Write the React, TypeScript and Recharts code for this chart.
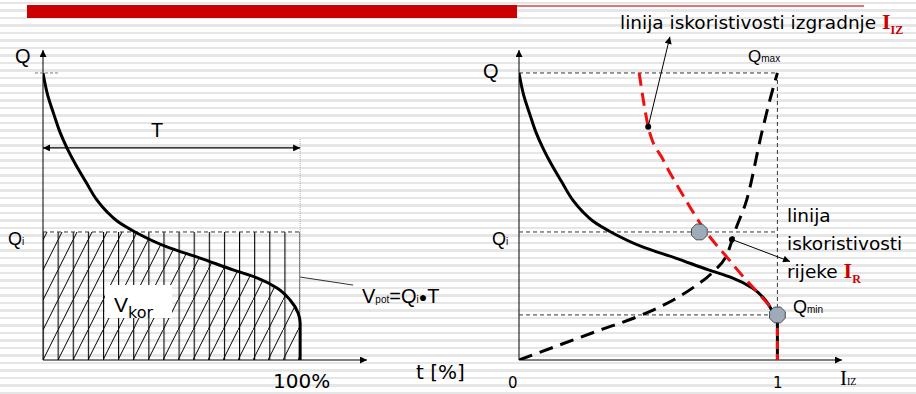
import React from "react";
import {
  ComposedChart, Line, Area, XAxis, YAxis, ReferenceLine, ReferenceDot, ReferenceArea,
} from "recharts";

// krivulja trajanja protoka: t [%] -> Q
const durT = [0, 1.9, 4.3, 6.6, 9.3, 12.8, 16.7, 21.0, 24.9, 28.8, 35.8, 48.2, 61.1, 73.9, 83.2, 91.0, 96.1, 99.2, 100, 100];
const durQ = [100, 92.0, 85.4, 79.4, 73.9, 67.9, 62.0, 55.7, 51.6, 48.4, 44.6, 39.4, 35.5, 31.4, 28.6, 25.1, 20.9, 16.4, 12.9, 0];

const QMAX = 100;
const QI = 44.6;
const QMIN = 15.7;
const T_LEVEL = 73.9;

// linija iskoristivosti izgradnje I_IZ
const izI = [0.465, 0.5, 0.558, 0.63, 0.724, 0.804, 0.868, 0.933, 1.0];
const izQ = [100, 81.3, 69.7, 58.1, 44.6, 35.9, 29.0, 22.6, 15.7];

// linija iskoristivosti rijeke I_R
const rI = [0, 0.159, 0.313, 0.475, 0.597, 0.675, 0.752, 0.804, 0.842, 0.881, 0.939, 0.971, 1.0];
const rQ = [0, 5.3, 10.4, 15.7, 20.9, 25.3, 30.8, 36.6, 46.4, 55.7, 79.0, 90.6, 100];

const duration = durT.map((t, k) => ({ t, q: durQ[k] }));
const durationRight = [...duration.filter((p) => p.q > 16), { t: 99.7, q: QMIN }];
const izLine = izI.map((i, k) => ({ i, q: izQ[k] }));
const rLine = rI.map((i, k) => ({ i, q: rQ[k] }));

const markers = [{ i: 0.698, q: QI }, { i: 1, q: QMIN }];
const leaderIZ = [{ x: 0.5, y: 81.3 }, { x: 0.584, y: 112.6 }];
const leaderR = [{ x: 0.824, y: 42.0 }, { x: 1.049, y: 34.3 }];
const leaderPot = [{ x: 100, y: 28.9 }, { x: 120.6, y: 26.1 }];

// opsezi osi (Q do vrha strelice, t i I do kraja strelice)
const Q_TOP = 108;
const T_END = 126;
const I_END = 1.25;

const ARIAL = "'Liberation Sans', Arial, sans-serif";
const VERD = "'DejaVu Sans', Verdana, sans-serif";
const SERIF = "'Liberation Serif', 'Times New Roman', serif";
const RED = "#ee1111";
const DARK_RED = "#cc0000";

const W = 916;
const H = 394;

function ArrowEnd(p: any) {
  return <line x1={p.x1} y1={p.y1} x2={p.x2} y2={p.y2} stroke="#000" strokeWidth={1} markerEnd="url(#arrowHead)" />;
}

function ArrowBoth(p: any) {
  return (
    <line x1={p.x1} y1={p.y1} x2={p.x2} y2={p.y2} stroke="#000" strokeWidth={1.2}
      markerStart="url(#arrowHead)" markerEnd="url(#arrowHead)" />
  );
}

function Octagon({ cx, cy }: any) {
  const r = 8.5;
  const pts = Array.from({ length: 8 }, (_, k) => {
    const a = Math.PI / 8 + (k * Math.PI) / 4;
    return `${cx + r * Math.cos(a)},${cy + r * Math.sin(a)}`;
  }).join(" ");
  return <polygon points={pts} fill="#9eacb9" stroke="#4a4a4a" strokeWidth={1} />;
}

function Defs() {
  return (
    <svg width={0} height={0} style={{ position: "absolute" }}>
      <defs>
        <marker id="arrowHead" viewBox="0 0 10 10" refX={10} refY={5} markerUnits="userSpaceOnUse"
          markerWidth={9} markerHeight={7} orient="auto-start-reverse">
          <path d="M0,0 L10,5 L0,10 z" fill="#000" />
        </marker>
        <pattern id="dhatch" patternUnits="userSpaceOnUse" x={43} y={0} width={15} height={30}>
          <line x1={-1} y1={32} x2={16} y2={-2} stroke="#000" strokeWidth={1} />
        </pattern>
        <pattern id="vhatch" patternUnits="userSpaceOnUse" x={42.5} y={0} width={257 / 17} height={10}>
          <rect x={0} y={0} width={1.1} height={10} fill="#000" />
        </pattern>
      </defs>
    </svg>
  );
}

function LeftChart() {
  return (
    <ComposedChart width={460} height={H} data={duration} margin={{ top: 50, right: 93, bottom: 34, left: 43 }}>
      <XAxis type="number" dataKey="t" domain={[0, T_END]} allowDataOverflow hide />
      <YAxis type="number" domain={[0, Q_TOP]} allowDataOverflow hide />
      <ReferenceArea x1={0} x2={100} y1={0} y2={QI} fill="url(#vhatch)" fillOpacity={1} stroke="none" ifOverflow="visible" />
      <Area dataKey={(d: any) => Math.min(d.q, QI)} type="linear" fill="url(#dhatch)" fillOpacity={1} stroke="none"
        isAnimationActive={false} />
      <ReferenceLine segment={[{ x: 0, y: 0 }, { x: T_END, y: 0 }]} shape={ArrowEnd} ifOverflow="visible" />
      <ReferenceLine segment={[{ x: 0, y: 0 }, { x: 0, y: Q_TOP }]} shape={ArrowEnd} ifOverflow="visible" />
      <ReferenceLine segment={[{ x: 0, y: QI }, { x: 100, y: QI }]} stroke="#333" strokeDasharray="4 3" ifOverflow="visible" />
      <ReferenceLine segment={[{ x: -3.1, y: QMAX }, { x: 5.8, y: QMAX }]} stroke="#777" strokeDasharray="3 2" ifOverflow="visible" />
      <ReferenceLine segment={[{ x: 100, y: 77 }, { x: 100, y: 0 }]} stroke="#aaa" strokeDasharray="1 1" ifOverflow="visible" />
      <ReferenceLine segment={[{ x: 0, y: T_LEVEL }, { x: 100, y: T_LEVEL }]} shape={ArrowBoth} ifOverflow="visible" />
      <ReferenceLine segment={leaderPot} stroke="#333" strokeWidth={1} ifOverflow="visible" />
      <Line dataKey="q" type="monotoneY" stroke="#000" strokeWidth={3} dot={false} activeDot={false}
        isAnimationActive={false} />
    </ComposedChart>
  );
}

function RightChart() {
  return (
    <ComposedChart width={456} height={H} margin={{ top: 50, right: 74, bottom: 34, left: 59 }}>
      <XAxis xAxisId="i" type="number" dataKey="i" domain={[0, I_END]} allowDataOverflow hide />
      <XAxis xAxisId="t" type="number" dataKey="t" domain={[0, T_END]} allowDataOverflow hide />
      <YAxis type="number" domain={[0, Q_TOP]} allowDataOverflow hide />

      <ReferenceLine xAxisId="i" segment={[{ x: 0, y: 0 }, { x: I_END, y: 0 }]} shape={ArrowEnd} ifOverflow="visible" />
      <ReferenceLine xAxisId="i" segment={[{ x: 0, y: 0 }, { x: 0, y: Q_TOP }]} shape={ArrowEnd} ifOverflow="visible" />

      <ReferenceLine xAxisId="i" segment={[{ x: 0, y: QMAX }, { x: 1, y: QMAX }]} stroke="#333" strokeDasharray="4 3" ifOverflow="visible" />
      <ReferenceLine xAxisId="i" segment={[{ x: 1, y: QMAX }, { x: 1, y: QMIN }]} stroke="#333" strokeDasharray="4 3" ifOverflow="visible" />
      <ReferenceLine xAxisId="i" segment={[{ x: 0, y: QI }, { x: 1, y: QI }]} stroke="#333" strokeDasharray="4 3" ifOverflow="visible" />
      <ReferenceLine xAxisId="i" segment={[{ x: 0, y: QMIN }, { x: 1, y: QMIN }]} stroke="#333" strokeDasharray="4 3" ifOverflow="visible" />

      <Line xAxisId="t" data={durationRight} dataKey="q" type="monotoneY" stroke="#000" strokeWidth={3} dot={false}
        activeDot={false} isAnimationActive={false} />
      <Line xAxisId="i" data={rLine} dataKey="q" type="monotoneX" stroke="#000" strokeWidth={3} strokeDasharray="14 8"
        dot={false} activeDot={false} isAnimationActive={false} />
      <Line xAxisId="i" data={izLine} dataKey="q" type="monotoneX" stroke={RED} strokeWidth={3} strokeDasharray="13 7"
        dot={false} activeDot={false} isAnimationActive={false} />

      <ReferenceLine xAxisId="i" segment={[{ x: 1, y: QMIN }, { x: 1, y: 0 }]} stroke="#000" strokeWidth={3} ifOverflow="visible" />
      <ReferenceLine xAxisId="i" segment={[{ x: 1, y: QMIN }, { x: 1, y: 0 }]} stroke={RED} strokeWidth={3} strokeDasharray="8 5" ifOverflow="visible" />

      <ReferenceLine xAxisId="i" segment={leaderIZ} shape={ArrowEnd} ifOverflow="visible" />
      <ReferenceLine xAxisId="i" segment={leaderR} shape={ArrowEnd} ifOverflow="visible" />
      <ReferenceDot xAxisId="i" x={leaderIZ[0].x} y={leaderIZ[0].y} r={3} fill="#000" stroke="none" ifOverflow="visible" />
      <ReferenceDot xAxisId="i" x={leaderR[0].x} y={leaderR[0].y} r={3} fill="#000" stroke="none" ifOverflow="visible" />

      {markers.map((m, k) => (
        <ReferenceDot key={k} xAxisId="i" x={m.i} y={m.q} r={8.5} shape={Octagon} ifOverflow="visible" />
      ))}
    </ComposedChart>
  );
}

function Labels() {
  return (
    <svg width={W} height={H} style={{ position: "absolute", left: 0, top: 0, pointerEvents: "none" }}>
      {/* lijevi dijagram */}
      <text x={15} y={63} fontFamily={ARIAL} fontSize={20}>Q</text>
      <text x={157} y={137} fontFamily={ARIAL} fontSize={20} textAnchor="middle">T</text>
      <text x={8} y={245} fontFamily={ARIAL} fontSize={18}>Q<tspan fontSize={10}>i</tspan></text>
      <rect x={105} y={285} width={67} height={33} fill="#fff" />
      <text x={114} y={312} fontFamily={ARIAL} fontSize={21}>V<tspan fontFamily={VERD} fontSize={16} dy={6}>kor</tspan></text>
      <text x={362} y={303} fontFamily={ARIAL} fontSize={20}>
        V<tspan fontSize={10}>pot</tspan>=Q<tspan fontSize={10}>i</tspan><tspan fontSize={14} dy={-1}>●</tspan><tspan dy={1}>T</tspan>
      </text>
      <text x={273} y={388} fontFamily={VERD} fontSize={20}>100%</text>
      <text x={416} y={379} fontFamily={VERD} fontSize={20}>t [%]</text>

      {/* desni dijagram */}
      <text x={483} y={78} fontFamily={ARIAL} fontSize={20}>Q</text>
      <text x={748} y={62} fontFamily={ARIAL} fontSize={17}>Q<tspan fontSize={10}>max</tspan></text>
      <text x={492} y={245} fontFamily={ARIAL} fontSize={18}>Q<tspan fontSize={10}>i</tspan></text>
      <text x={793} y={313} fontFamily={ARIAL} fontSize={18}>Q<tspan fontSize={10}>min</tspan></text>
      <text x={620} y={29} fontFamily={VERD} fontSize={18.5}>
        linija iskoristivosti izgradnje{" "}
        <tspan fill={DARK_RED} fontFamily={SERIF} fontWeight="bold" fontSize={22}>I</tspan>
        <tspan fill={DARK_RED} fontFamily={SERIF} fontWeight="bold" fontSize={12} dy={5}>IZ</tspan>
      </text>
      <text x={787} y={222} fontFamily={VERD} fontSize={18.5}>linija</text>
      <text x={787} y={250} fontFamily={VERD} fontSize={18.5}>iskoristivosti</text>
      <text x={787} y={278} fontFamily={VERD} fontSize={18.5}>
        rijeke{" "}
        <tspan fill={DARK_RED} fontFamily={SERIF} fontWeight="bold" fontSize={22}>I</tspan>
        <tspan fill={DARK_RED} fontFamily={SERIF} fontWeight="bold" fontSize={12} dy={5}>R</tspan>
      </text>
      <text x={840} y={385} fontFamily={SERIF} fontSize={21}>I<tspan fontSize={10}>IZ</tspan></text>
      <text x={508} y={388} fontFamily={VERD} fontSize={15}>0</text>
      <text x={773} y={388} fontFamily={VERD} fontSize={15}>1</text>
    </svg>
  );
}

export default function App() {
  return (
    <div
      style={{
        position: "absolute", left: 0, top: 0, width: W, height: H, overflow: "hidden",
        background: "repeating-linear-gradient(to bottom, #e6e6e6 0px, #e6e6e6 2.5px, #ffffff 2.5px, #ffffff 7.5px)",
        backgroundPosition: "0 2px",
      }}
    >
      <Defs />
      <div style={{ position: "absolute", left: 27, top: 5, width: 490, height: 13, background: DARK_RED }} />
      <div style={{ position: "absolute", left: 517, top: 5, width: 347, height: 2, background: "#e57373" }} />
      <div style={{ position: "absolute", left: 0, top: 0 }}>
        <LeftChart />
      </div>
      <div style={{ position: "absolute", left: 460, top: 0 }}>
        <RightChart />
      </div>
      <Labels />
    </div>
  );
}
